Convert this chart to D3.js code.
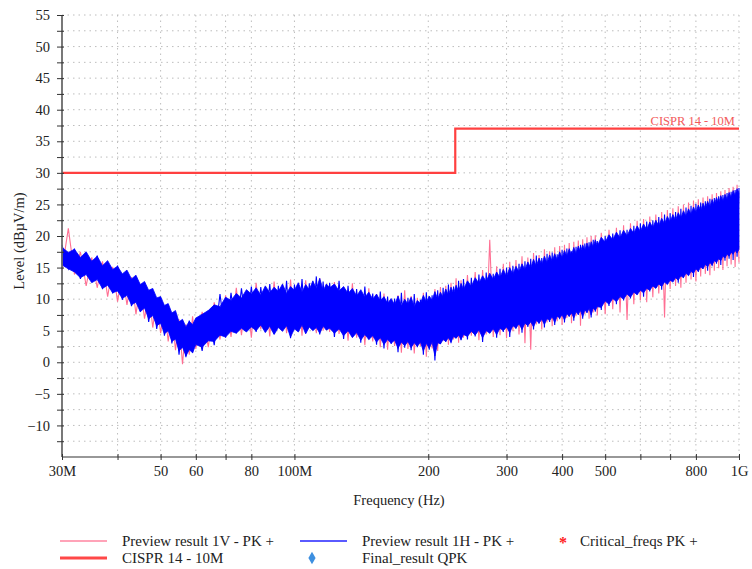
<!DOCTYPE html>
<html>
<head>
<meta charset="utf-8">
<script src="https://cdn.jsdelivr.net/npm/d3@7"></script>
<style>
body { margin: 0; background: #fff; }
svg { display: block; font-family: "Liberation Serif", "Times New Roman", serif; }
</style>
</head>
<body>
<svg id="chart" width="752" height="569"></svg>
<script>
// sweep frequencies, MHz
var sweepMHz = [
  30,31,32,33,34,35,36,37,38,39,40,41,42,43,44,45,46,47,48,49,50,51,52,53,54,55,56,57,58,59,60,
  62,64,66,68,70,72,74,76,78,80,82,84,86,88,90,92,94,96,98,100,102,104,106,108,110,112,114,116,118,120,
  123,126,129,132,135,138,141,144,147,150,153,156,159,162,165,168,171,174,177,180,183,186,189,192,195,198,
  201,204,207,210,213,216,219,222,225,228,231,234,237,240,
  245,250,255,260,265,270,275,280,285,290,295,300,305,310,315,320,325,330,335,340,345,350,355,360,365,370,
  375,380,385,390,395,400,405,410,415,420,425,430,435,440,445,450,455,460,465,470,475,480,
  490,500,510,520,530,540,550,560,570,580,590,600,610,620,630,640,650,660,670,680,690,700,710,720,730,740,
  750,760,770,780,790,800,810,820,830,840,850,860,870,880,890,900,910,920,930,940,950,960,970,980,990,1000
]

// Preview result 1V - PK+ peaks (dBuV/m)
var pk1V = [
  14.6,21.2,13.9,17.5,12.1,16.6,11.8,16.0,10.4,15.1,9.6,14.0,9.1,13.5,7.6,12.2,6.9,11.3,5.5,10.0,4.6,8.8,3.3,7.9,1.9,6.8,-0.3,6.0,1.2,7.3,2.1,
  8.0,2.4,9.5,3.6,10.6,4.0,11.8,4.3,11.3,3.9,12.6,5.2,11.5,4.1,12.8,5.5,11.9,4.6,13.1,5.4,12.2,4.2,13.0,5.8,12.1,4.6,13.3,5.0,12.4,4.8,
  12.7,4.5,11.8,3.4,12.5,3.9,11.2,2.7,11.7,3.3,10.8,2.4,10.9,2.0,9.8,2.6,10.6,1.5,11.4,2.1,10.5,1.4,10.2,2.6,11.0,0.9,
  10.3,2.2,11.6,1.8,11.9,3.4,12.1,2.8,12.6,3.6,13.3,3.1,13.0,3.9,
  13.8,4.2,14.3,3.5,14.6,4.4,19.4,4.0,15.2,4.3,15.6,3.8,15.9,4.9,16.2,4.4,16.8,3.0,16.6,2.0,17.3,6.0,17.0,5.2,17.9,6.3,
  17.6,5.7,18.2,6.5,18.4,5.9,18.6,7.0,18.9,6.2,19.1,7.3,19.3,5.8,19.5,7.6,19.8,6.9,20.0,7.9,20.1,7.4,
  20.5,7.6,21.0,8.4,21.3,7.9,21.7,6.7,22.0,9.2,22.4,9.8,22.7,9.5,23.1,10.3,23.4,10.9,23.8,7.1,24.1,11.6,24.4,12.1,24.7,11.8,
  25.0,12.6,25.3,13.1,25.6,12.8,25.8,13.6,26.1,14.0,26.3,13.8,26.6,14.5,26.8,14.9,27.1,14.6,27.3,15.2,27.6,15.5,27.8,15.1,28.1,15.8
]

// Preview result 1H - PK+ peaks (dBuV/m)
var pk1H = [
  18.6,14.8,18.0,13.2,17.2,12.8,16.9,11.6,15.8,10.9,15.3,9.9,13.8,8.9,13.2,8.0,12.1,6.4,10.8,5.3,9.6,4.2,8.9,3.0,7.6,1.2,6.3,0.8,6.6,1.5,6.8,
  1.8,8.2,2.7,10.8,3.9,11.0,4.6,11.7,5.1,12.0,4.8,11.9,5.6,12.4,4.5,12.1,5.2,12.9,3.8,12.3,5.0,13.2,4.7,12.5,5.3,13.6,4.4,12.8,5.1,12.6,
  4.0,12.9,3.7,12.1,4.2,11.6,3.1,12.0,3.6,10.9,2.8,11.2,2.2,10.4,2.9,10.1,1.6,11.0,2.3,10.2,1.9,10.8,2.4,9.9,1.2,11.1,
  2.0,10.6,0.3,11.4,2.9,11.8,3.2,12.3,3.0,12.0,3.8,12.9,3.5,13.2,
  3.6,13.4,4.1,13.9,3.2,14.2,4.6,14.0,3.9,14.8,4.8,15.0,4.0,15.3,5.3,15.6,4.7,16.0,5.6,16.4,5.2,16.9,6.1,16.5,5.5,17.2,
  6.4,17.4,5.9,17.1,6.8,17.8,6.3,18.0,7.2,17.6,6.6,18.3,7.5,18.6,6.9,18.8,7.8,19.0,7.1,19.4,8.0,19.2,
  8.3,20.0,8.9,20.4,9.2,20.9,9.8,21.0,10.1,21.6,10.7,22.0,10.4,22.3,11.2,22.5,11.8,23.0,11.5,23.4,12.4,23.6,12.9,23.8,12.6,24.3,
  13.4,24.5,13.8,24.8,13.5,25.1,14.3,25.3,14.8,25.5,14.5,25.9,15.2,26.0,15.6,26.3,15.4,26.5,16.1,26.8,16.4,27.0,16.2,27.3,16.7,27.6
]

// 1H dense sweep band: upper and lower edge (dBuV/m)
var band1Hhi = [
  18.2,17.4,17.9,16.6,17.5,16.0,16.8,15.3,16.1,14.7,15.2,14.0,14.6,13.2,13.8,12.3,12.8,11.4,11.7,10.2,10.4,9.0,9.3,7.8,8.2,6.4,6.8,5.6,6.5,6.0,7.0,
  7.6,8.2,9.1,8.8,10.3,9.8,10.9,10.2,11.5,10.8,11.8,10.6,12.1,11.0,11.9,11.2,12.4,10.9,12.0,11.4,12.6,11.1,12.3,11.5,12.9,11.6,13.3,11.3,12.4,11.8,
  12.4,11.3,12.0,10.9,11.7,10.5,11.5,10.3,11.1,10.0,10.8,9.7,10.4,9.3,10.1,9.1,10.5,8.9,10.0,9.2,10.3,8.8,9.8,9.3,10.6,9.5,
  10.5,9.8,11.2,10.0,11.1,10.3,11.6,10.6,11.9,10.9,12.2,11.2,12.5,11.5,
  12.9,12.0,13.4,12.5,13.7,12.8,14.1,13.1,14.3,13.4,14.7,13.6,15.0,13.9,15.2,14.3,15.6,14.6,15.9,14.9,16.3,15.2,16.5,15.5,16.8,15.7,
  17.0,16.0,17.2,16.2,17.5,16.5,17.7,16.8,18.0,17.0,18.2,17.2,18.4,17.5,18.6,17.7,18.9,17.9,19.1,18.2,19.4,18.4,
  19.8,19.0,20.2,19.4,20.6,19.7,20.9,20.0,21.2,20.4,21.6,20.7,21.9,21.0,22.2,21.3,22.5,21.6,22.8,21.9,23.1,22.2,23.4,22.5,23.7,22.8,
  24.0,23.1,24.3,23.4,24.6,23.7,24.9,24.0,25.2,24.3,25.5,24.6,25.8,24.9,26.1,25.2,26.4,25.5,26.6,25.8,26.9,26.1,27.2,26.4,27.5,26.8
]
var band1Hlo = [
  15.4,14.8,14.3,13.4,13.9,12.6,13.1,11.7,12.2,11.0,11.3,10.1,10.6,9.1,9.5,8.0,8.6,6.9,7.4,5.8,6.2,4.5,5.0,3.3,3.7,1.8,2.4,1.0,2.0,1.5,2.8,
  2.4,3.4,3.3,4.3,4.0,4.9,4.6,5.4,4.8,5.6,5.0,5.9,4.7,5.7,4.4,5.5,4.9,5.8,4.0,5.3,4.8,5.9,4.5,5.6,5.0,5.5,4.6,5.7,5.1,5.4,
  4.6,5.3,4.2,5.0,3.9,4.7,3.5,4.4,3.6,4.2,3.2,3.9,2.8,3.6,3.0,3.5,2.2,3.2,2.6,3.3,2.3,3.1,2.5,3.2,1.8,3.0,
  2.2,3.2,1.0,3.1,2.9,3.6,3.3,3.9,3.2,4.1,3.8,4.3,3.6,4.4,
  4.1,4.9,4.3,5.1,3.9,5.0,4.6,5.3,4.4,5.4,5.0,5.6,4.7,5.8,5.4,6.1,5.2,6.2,5.8,6.4,5.6,6.6,6.2,6.8,6.0,6.9,
  6.6,7.2,6.3,7.3,7.0,7.5,6.7,7.7,7.3,7.8,7.0,8.0,7.6,8.2,7.2,8.3,7.9,8.5,7.5,8.6,8.2,8.8,
  8.7,9.7,9.2,10.1,9.6,10.4,10.0,10.8,10.3,11.1,10.7,11.4,11.0,11.7,11.4,12.1,11.7,12.4,12.0,12.7,12.3,13.0,12.7,13.4,13.0,13.7,
  13.4,14.1,13.7,14.4,14.1,14.8,14.4,15.1,14.8,15.5,15.1,15.8,15.4,16.1,15.8,16.4,16.1,16.8,16.5,17.1,16.8,17.4,17.1,17.7,17.3,17.9
]

// CISPR 14 - 10M limit
var limitMHz = [30, 230, 230, 1000]
var limitLevel = [30, 30, 37, 37]

var xTicks = [30, 40, 50, 60, 70, 80, 100, 200, 300, 400, 500, 600, 700, 800, 1000]
var xTickLabels = {30: '30M', 50: '50', 60: '60', 80: '80', 100: '100M', 200: '200', 300: '300', 400: '400', 500: '500', 800: '800', 1000: '1G'}
var yTicks = d3.range(-12.5, 55.01, 2.5)

var legendItems = [
  {name: 'Preview result 1V - PK +', kind: 'line', color: '#ffa3b8', w: 2},
  {name: 'Preview result 1H - PK +', kind: 'line', color: '#5a5aff', w: 2},
  {name: 'Critical_freqs PK +', kind: 'star', color: '#ff2020'},
  {name: 'CISPR 14 - 10M', kind: 'line', color: '#ff4848', w: 3},
  {name: 'Final_result QPK', kind: 'diamond', color: '#3d8fe0'}
]

var svg = d3.select('#chart')
var plotL = 62, plotR = 739, plotT = 15, plotB = 457

var x = d3.scaleLog().domain([30, 1000]).range([plotL, plotR])
var y = d3.scaleLinear().domain([-15, 55]).range([plotB, plotT])

// grid
svg.append('g').selectAll('line')
  .data(yTicks)
  .enter().append('line')
  .attr('x1', plotL).attr('x2', plotR)
  .attr('y1', function (d) { return y(d) }).attr('y2', function (d) { return y(d) })
  .attr('stroke', '#bdbdbd').attr('stroke-width', 1).attr('stroke-dasharray', '1.5,4')

svg.append('g').selectAll('line')
  .data(xTicks.slice(1))
  .enter().append('line')
  .attr('y1', plotT).attr('y2', plotB)
  .attr('x1', function (d) { return x(d) }).attr('x2', function (d) { return x(d) })
  .attr('stroke', '#bdbdbd').attr('stroke-width', 1).attr('stroke-dasharray', '1.5,4')

// traces
var trace = d3.line()
  .x(function (d, i) { return x(sweepMHz[i]) })
  .y(function (d) { return y(d) })

var band = d3.area()
  .x(function (d, i) { return x(sweepMHz[i]) })
  .y0(function (d, i) { return y(band1Hlo[i]) })
  .y1(function (d) { return y(d) })

svg.append('path').datum(pk1V)
  .attr('d', trace).attr('fill', 'none')
  .attr('stroke', '#ff6f93').attr('stroke-width', 1.1)

svg.append('path').datum(band1Hhi)
  .attr('d', band).attr('fill', '#0000ff')
  .attr('stroke', '#0000ff').attr('stroke-width', 0.8)

svg.append('path').datum(pk1H)
  .attr('d', trace).attr('fill', 'none')
  .attr('stroke', '#0000ff').attr('stroke-width', 1.1)

// limit line
var limitLine = d3.line()
  .x(function (d, i) { return x(limitMHz[i]) })
  .y(function (d) { return y(d) })

svg.append('path').datum(limitLevel)
  .attr('d', limitLine).attr('fill', 'none')
  .attr('stroke', '#ff4040').attr('stroke-width', 2.2)

svg.append('text')
  .attr('x', 735).attr('y', y(limitLevel[3]) - 3.5)
  .attr('text-anchor', 'end')
  .attr('font-size', '12.5px').attr('fill', '#f25a5a')
  .text('CISPR 14 - 10M')

// axes
var yAxis = svg.append('g')
  .attr('transform', 'translate(' + plotL + ',0)')
  .call(d3.axisLeft(y)
    .tickValues(yTicks)
    .tickSize(5)
    .tickPadding(7)
    .tickFormat(function (d) { return d % 5 === 0 ? d3.format('d')(d) : '' }))
yAxis.attr('font-family', null).attr('font-size', '14.5px')
yAxis.select('.domain').attr('d', 'M0,' + plotT + 'V' + plotB).attr('stroke', '#6a6a6a').attr('stroke-width', 1.8)
yAxis.selectAll('.tick line').attr('x1', 2).attr('stroke', '#333')
yAxis.selectAll('.tick text').attr('fill', '#222')

var xAxis = svg.append('g')
  .attr('transform', 'translate(0,' + plotB + ')')
  .call(d3.axisBottom(x)
    .tickValues(xTicks)
    .tickSize(3)
    .tickPadding(6)
    .tickFormat(function (d) { return xTickLabels[d] || '' }))
xAxis.attr('font-family', null).attr('font-size', '14.5px')
xAxis.select('.domain').attr('d', 'M' + plotL + ',0H' + plotR).attr('stroke', '#333').attr('stroke-width', 1.2)
xAxis.selectAll('.tick line').attr('y1', -3).attr('stroke', '#333')
xAxis.selectAll('.tick text').attr('fill', '#222')

svg.append('text')
  .attr('transform', 'translate(24,241) rotate(-90)')
  .attr('text-anchor', 'middle').attr('font-size', '14.5px').attr('fill', '#222')
  .text('Level (dBµV/m)')

svg.append('text')
  .attr('x', 399).attr('y', 505)
  .attr('text-anchor', 'middle').attr('font-size', '14.5px').attr('fill', '#222')
  .text('Frequency (Hz)')

// legend
var legendPos = [[60, 541], [300, 541], [540, 541], [60, 558], [300, 558]]
var lg = svg.append('g').selectAll('g')
  .data(legendItems)
  .enter().append('g')
  .attr('transform', function (d, i) { return 'translate(' + legendPos[i][0] + ',' + legendPos[i][1] + ')' })

lg.filter(function (d) { return d.kind === 'line' })
  .append('line')
  .attr('x1', 0).attr('x2', 47).attr('y1', 0).attr('y2', 0)
  .attr('stroke', function (d) { return d.color })
  .attr('stroke-width', function (d) { return d.w })

lg.filter(function (d) { return d.kind === 'star' })
  .append('text')
  .attr('x', 23).attr('y', 7)
  .attr('text-anchor', 'middle').attr('font-size', '16px').attr('font-weight', 'bold')
  .attr('fill', function (d) { return d.color })
  .text('*')

lg.filter(function (d) { return d.kind === 'diamond' })
  .append('path')
  .attr('transform', 'translate(12,0)')
  .attr('d', d3.symbol().type(d3.symbolDiamond).size(45))
  .attr('fill', function (d) { return d.color })

lg.append('text')
  .attr('x', function (d) { return d.kind === 'star' ? 40 : 62 })
  .attr('y', 5)
  .attr('font-size', '15px').attr('fill', '#222')
  .text(function (d) { return d.name })
</script>
</body>
</html>
